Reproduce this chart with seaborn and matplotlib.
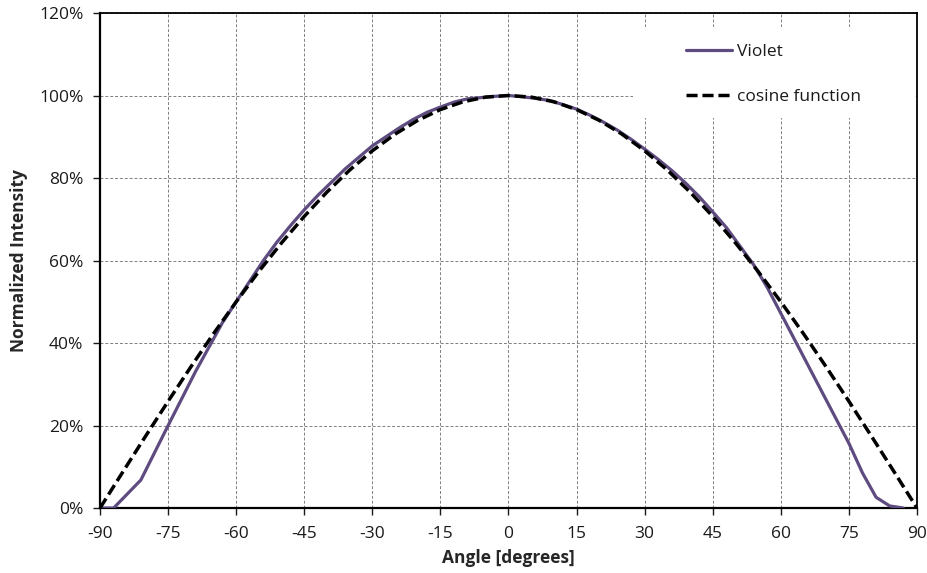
import matplotlib
matplotlib.use('Agg')  # Use non-GUI backend

import pandas as pd
import seaborn as sns
import matplotlib.pyplot as plt
from matplotlib.patches import Rectangle

# Violet measurement (normalized intensity, %)
violet_angle = [-90, -87, -81, -75, -69, -63, -60, -57, -54, -51, -48, -45, -42, -39,
                -36, -33, -30, -27, -24, -21, -18, -15, -12, -9, -6, -3, 0,
                3, 6, 9, 12, 15, 18, 21, 24, 27, 30, 33, 36, 39, 42, 45, 48, 51,
                54, 57, 60, 63, 66, 69, 72, 75, 78, 81, 84, 87]
violet_value = [0, 0, 6.8, 20, 33, 45, 50, 55, 60, 64.5, 68.5, 72.3, 75.8, 79,
                82.2, 85, 87.8, 90, 92.2, 94.2, 95.9, 97.2, 98.4, 99.2, 99.5, 99.8, 100,
                99.7, 99.3, 98.8, 97.8, 96.7, 95.2, 93.5, 91.6, 89.4, 87, 84.5, 81.8,
                78.8, 75.5, 71.8, 68, 63.5, 59, 53.5, 47.2, 40.9, 34.6, 28.3, 22,
                15.7, 8.5, 2.6, 0.5, 0]

# cosine reference (%)
cos_angle = [-90, -85, -80, -75, -70, -65, -60, -55, -50, -45, -40, -35, -30, -25,
             -20, -15, -10, -5, 0, 5, 10, 15, 20, 25, 30, 35, 40, 45, 50, 55, 60,
             65, 70, 75, 80, 85, 90]
cos_value = [0, 8.72, 17.36, 25.88, 34.20, 42.26, 50.00, 57.36, 64.28, 70.71, 76.60,
             81.92, 86.60, 90.63, 93.97, 96.59, 98.48, 99.62, 100, 99.62, 98.48,
             96.59, 93.97, 90.63, 86.60, 81.92, 76.60, 70.71, 64.28, 57.36, 50.00,
             42.26, 34.20, 25.88, 17.36, 8.72, 0]

x_ticks = list(range(-90, 91, 15))
y_ticks = [0, 20, 40, 60, 80, 100, 120]

sns.set_theme(style="white")
plt.rcParams['font.family'] = ['Open Sans', 'DejaVu Sans']

violet_df = pd.DataFrame({"angle": violet_angle, "value": violet_value})
cos_df = pd.DataFrame({"angle": cos_angle, "value": cos_value})

fig = plt.figure(figsize=(9.28, 5.73), dpi=100)
ax = fig.add_axes([0.1078, 0.1134, 0.8803, 0.8639])

sns.lineplot(data=violet_df, x="angle", y="value", ax=ax, color="#5E4B80",
             lw=2.3, label="Violet", zorder=3)
sns.lineplot(data=cos_df, x="angle", y="value", ax=ax, color="black",
             lw=2.5, linestyle=(0, (3.2, 1.4)), label="cosine function", zorder=3)

ax.set_xlim(-90, 90)
ax.set_ylim(0, 120)
ax.set_xticks(x_ticks)
ax.set_xticklabels([str(t) for t in x_ticks])
ax.set_yticks(y_ticks)
ax.set_yticklabels([f"{t}%" for t in y_ticks])
ax.tick_params(axis="both", direction="out", length=5, width=1, labelsize=12.5,
               colors="#1a1a1a", bottom=True, left=True)
ax.tick_params(axis="y", pad=7)
ax.tick_params(axis="x", pad=8)
ax.grid(True, linestyle=(0, (3, 2)), color="#808080", lw=0.7)

for s in ["left", "bottom"]:
    ax.spines[s].set_linewidth(1.6)
    ax.spines[s].set_color("black")
for s in ["top", "right"]:
    ax.spines[s].set_linewidth(1.3)
    ax.spines[s].set_color("black")

ax.set_xlabel("Angle [degrees]", fontsize=12.5, fontweight="bold", labelpad=5)
ax.set_ylabel("Normalized Intensity", fontsize=12.5, fontweight="bold", labelpad=8)

# white legend area hiding the grid
ax.add_patch(Rectangle((0.6524, 0.788), 0.3452, 0.184, transform=ax.transAxes,
                       facecolor="white", edgecolor="none", zorder=1.8))

leg = ax.legend(loc="upper left", bbox_to_anchor=(0.717, 0.937), borderaxespad=0,
                frameon=False, fontsize=12.5, labelspacing=1.65, handlelength=2.65,
                handletextpad=0.3, borderpad=0)
for t in leg.get_texts():
    t.set_color("#1a1a1a")

plt.savefig("out.png", dpi=100)
plt.close()
